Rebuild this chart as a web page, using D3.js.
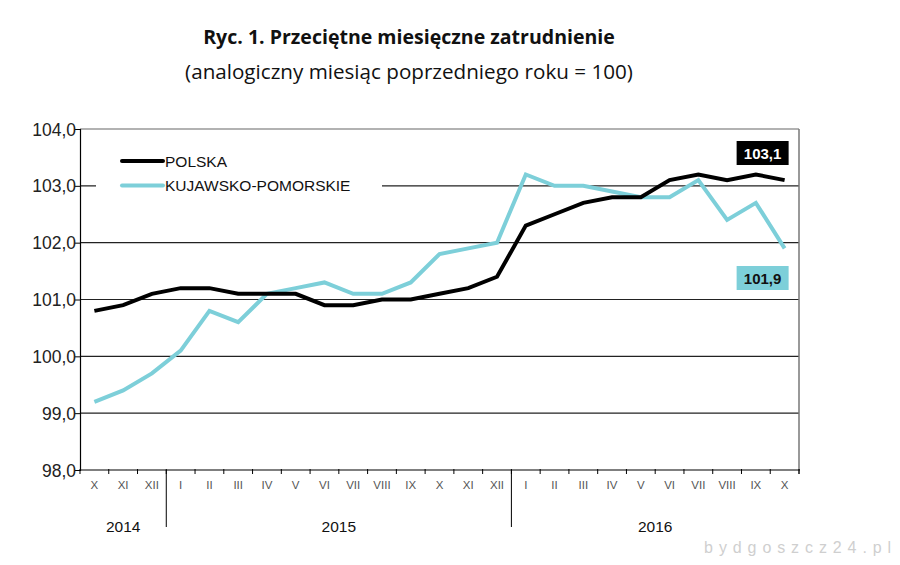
<!DOCTYPE html>
<html>
<head>
<meta charset="utf-8">
<script src="https://cdn.jsdelivr.net/npm/d3@7"></script>
<style>
  body { margin: 0; background: #fff; }
  svg { display: block; }
</style>
</head>
<body>
<svg id="chart" width="900" height="565"></svg>
<script>
// months: X 2014 .. X 2016
const months = ["X","XI","XII","I","II","III","IV","V","VI","VII","VIII","IX","X",
  "XI","XII","I","II","III","IV","V","VI","VII","VIII","IX","X"]
const years = [
  { label: "2014", from: 0, to: 3 },
  { label: "2015", from: 3, to: 15 },
  { label: "2016", from: 15, to: 25 }
]
const polska = [100.8, 100.9, 101.1, 101.2, 101.2, 101.1, 101.1, 101.1, 100.9, 100.9, 101.0, 101.0, 101.1,
  101.2, 101.4, 102.3, 102.5, 102.7, 102.8, 102.8, 103.1, 103.2, 103.1, 103.2, 103.1]
const kujawsko = [99.2, 99.4, 99.7, 100.1, 100.8, 100.6, 101.1, 101.2, 101.3, 101.1, 101.1, 101.3, 101.8,
  101.9, 102.0, 103.2, 103.0, 103.0, 102.9, 102.8, 102.8, 103.1, 102.4, 102.7, 101.9]
const yTicks = [98, 99, 100, 101, 102, 103, 104]

const svg = d3.select("#chart")
const plotLeft = 80, plotRight = 799, plotTop = 129, plotBottom = 470
const black = "#000", cyan = "#7dcfd9"
const sans = "Liberation Sans, Arial"

const x = d3.scaleBand().domain(d3.range(months.length)).range([plotLeft, plotRight])
const y = d3.scaleLinear().domain([98, 104]).range([plotBottom, plotTop])
const fmt = d => d3.format(".1f")(d).replace(".", ",")

// title, sized to fit the reference widths
function fitText(sel, target) {
  const w = sel.node().getComputedTextLength()
  const fs = parseFloat(sel.attr("font-size"))
  sel.attr("font-size", fs * target / w)
}
const t1 = svg.append("text")
  .attr("x", 409).attr("y", 44).attr("text-anchor", "middle")
  .attr("font-family", "Open Sans").attr("font-weight", "bold").attr("font-size", 18)
  .attr("fill", "#111")
  .text("Ryc. 1. Przeciętne miesięczne zatrudnienie")
fitText(t1, 412)
const t2 = svg.append("text")
  .attr("x", 409).attr("y", 79).attr("text-anchor", "middle")
  .attr("font-family", "Open Sans").attr("font-size", 18)
  .attr("fill", "#111")
  .text("(analogiczny miesiąc poprzedniego roku = 100)")
fitText(t2, 448)

// grid lines
svg.append("g").selectAll("line")
  .data(yTicks.filter(d => d > 98))
  .join("line")
  .attr("x1", plotLeft).attr("x2", plotRight)
  .attr("y1", d => y(d)).attr("y2", d => y(d))
  .attr("stroke", d => d === 104 ? "#666" : "#222")
  .attr("stroke-width", 1.2)

// right border
svg.append("line")
  .attr("x1", plotRight).attr("x2", plotRight).attr("y1", plotTop).attr("y2", plotBottom + 4)
  .attr("stroke", "#777").attr("stroke-width", 1.5)

// y axis
const yAxis = svg.append("g")
  .attr("transform", `translate(${plotLeft},0)`)
  .call(d3.axisLeft(y).tickValues(yTicks).tickFormat(fmt).tickSizeOuter(0).tickSize(5))
yAxis.select(".domain").attr("stroke", "#000").attr("stroke-width", 1.2)
yAxis.selectAll(".tick line").attr("stroke", "#000")
yAxis.selectAll("text")
  .attr("font-family", sans).attr("font-size", 17.5).attr("fill", "#222")
  .attr("x", -4).attr("dy", "0.35em")

// x axis
const xAxis = svg.append("g").attr("transform", `translate(0,${plotBottom})`)
xAxis.append("line").attr("x1", plotLeft).attr("x2", plotRight + 1)
  .attr("stroke", "#000").attr("stroke-width", 1.2)
xAxis.selectAll(".tk")
  .data(d3.range(months.length + 1))
  .join("line")
  .attr("class", "tk")
  .attr("x1", i => plotLeft + i * x.step()).attr("x2", i => plotLeft + i * x.step())
  .attr("y1", -1).attr("y2", 4)
  .attr("stroke", "#000")
xAxis.selectAll(".ml")
  .data(months)
  .join("text")
  .attr("class", "ml")
  .attr("x", (d, i) => x(i) + x.bandwidth() / 2)
  .attr("y", 18.5)
  .attr("text-anchor", "middle")
  .attr("font-family", sans).attr("font-size", 11.5).attr("fill", "#555")
  .text(d => d)

// year separators and labels
years.slice(1).forEach(yr => {
  xAxis.append("line")
    .attr("x1", plotLeft + yr.from * x.step()).attr("x2", plotLeft + yr.from * x.step())
    .attr("y1", 0).attr("y2", 57)
    .attr("stroke", "#000").attr("stroke-width", 1)
})
xAxis.selectAll(".yl")
  .data(years)
  .join("text")
  .attr("class", "yl")
  .attr("x", d => plotLeft + (d.from + d.to) / 2 * x.step())
  .attr("y", 61.5)
  .attr("text-anchor", "middle")
  .attr("font-family", sans).attr("font-size", 15.5).attr("fill", "#111")
  .text(d => d.label)

// legend (white box interrupts the 103 grid line)
svg.append("rect").attr("x", 96).attr("y", 145).attr("width", 286).attr("height", 50).attr("fill", "#fff")
const legend = [{ name: "POLSKA", color: black, y: 161 }, { name: "KUJAWSKO-POMORSKIE", color: cyan, y: 185.5 }]
legend.forEach(l => {
  svg.append("line").attr("x1", 122).attr("x2", 163).attr("y1", l.y).attr("y2", l.y)
    .attr("stroke", l.color).attr("stroke-width", 4).attr("stroke-linecap", "round")
  svg.append("text").attr("x", 165).attr("y", l.y + 5.5)
    .attr("font-family", sans).attr("font-size", 15.5).attr("fill", "#111")
    .text(l.name)
})

// lines
const line = d3.line()
  .x((d, i) => x(i) + x.bandwidth() / 2)
  .y(d => y(d))
svg.append("path").datum(kujawsko)
  .attr("d", line).attr("fill", "none").attr("stroke", cyan).attr("stroke-width", 4)
svg.append("path").datum(polska)
  .attr("d", line).attr("fill", "none").attr("stroke", black).attr("stroke-width", 4)

// end value labels
const lastX = x(months.length - 1) + x.bandwidth() / 2
const endLabels = [
  { v: polska[polska.length - 1], bg: black, fg: "#fff", y: 141 },
  { v: kujawsko[kujawsko.length - 1], bg: cyan, fg: "#111", y: 266 }
]
endLabels.forEach(e => {
  svg.append("rect").attr("x", lastX - 48).attr("y", e.y).attr("width", 52).attr("height", 24).attr("fill", e.bg)
  svg.append("text").attr("x", lastX - 22).attr("y", e.y + 17.5)
    .attr("text-anchor", "middle")
    .attr("font-family", sans).attr("font-weight", "bold").attr("font-size", 15)
    .attr("fill", e.fg).text(fmt(e.v))
})

// watermark
svg.append("text").attr("x", 897).attr("y", 553).attr("text-anchor", "end")
  .attr("font-family", sans).attr("font-size", 16).attr("letter-spacing", 5.9)
  .attr("fill", "#cfcfcf").text("bydgoszcz24.pl")
</script>
</body>
</html>
